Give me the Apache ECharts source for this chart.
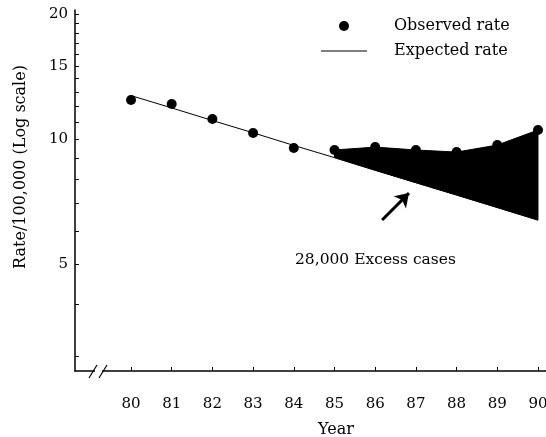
<!DOCTYPE html>
<html lang="en">
<head>
  <meta charset="UTF-8">
  <title>Observed vs expected rate</title>
  <script src="https://cdn.jsdelivr.net/npm/echarts@6/dist/echarts.min.js"></script>
</head>
<body style="margin:0">
  <div id="main" style="width:546px; height:437px;"></div>
  <script>
    // data
    var years = [80, 81, 82, 83, 84, 85, 86, 87, 88, 89, 90];
    var observed = [12.42, 12.15, 11.18, 10.35, 9.52, 9.42, 9.57, 9.42, 9.31, 9.68, 10.52];
    var expected = [12.73, 11.89, 11.09, 10.36, 9.66, 9.03, 8.42, 7.86, 7.34, 6.85, 6.39];
    var excessYears = [85, 86, 87, 88, 89, 90];
    var yLabels = [5, 10, 15, 20];
    var yTicks = [3, 4, 5, 6, 7, 8, 9, 10, 11, 12, 13, 14, 15, 16, 17, 18, 19, 20];
    var arrowFrom = [86.17, 6.39];
    var arrowTo = [86.83, 7.42];

    var font = 'DejaVu Serif';

    var obsPts = years.map(function (y, i) { return [y, observed[i]]; });
    var expPts = years.map(function (y, i) { return [y, expected[i]]; });
    // rows [year, observed, expected] for the shaded excess
    var excessRows = excessYears.map(function (y) {
      var i = years.indexOf(y);
      return [y, observed[i], expected[i]];
    });

    var chart = echarts.init(document.getElementById('main'));
    var option = {
      animation: false,
      backgroundColor: '#fff',
      grid: { left: 75, right: 0, top: 10, bottom: 66, outerBoundsMode: 'none' },
      legend: {
        data: [
          { name: 'Observed rate', icon: 'circle' },
          { name: 'Expected rate', icon: 'path://M0,0H46V1H0Z' }
        ],
        orient: 'vertical',
        left: 316, top: 11,
        itemWidth: 46, itemHeight: 10, itemGap: 5,
        symbolKeepAspect: true,
        textStyle: { fontFamily: font, fontSize: 16, color: '#000', lineHeight: 20, padding: [0, 0, 0, 22] }
      },
      xAxis: {
        type: 'value', min: 78.624, max: 90.197,
        name: 'Year', nameLocation: 'middle', nameGap: 51,
        nameTextStyle: { fontFamily: font, fontSize: 16, color: '#000', padding: [0, 0, 0, 51] },
        axisLine: { lineStyle: { color: '#000', width: 1.5 } },
        axisTick: { inside: true, length: 4, customValues: years, lineStyle: { color: '#000' } },
        axisLabel: { customValues: years, margin: 26, fontFamily: font, fontSize: 15, color: '#000' },
        splitLine: { show: false }
      },
      yAxis: {
        type: 'log', logBase: 10, min: 2.77, max: 20.45,
        name: 'Rate/100,000 (Log scale)', nameLocation: 'middle', nameGap: 46,
        nameTextStyle: { fontFamily: font, fontSize: 16, color: '#000', padding: [0, 0, 0, 47] },
        axisLine: { show: true, lineStyle: { color: '#000', width: 1.5 } },
        axisTick: { show: true, inside: true, length: 4, customValues: yTicks, lineStyle: { color: '#000' } },
        axisLabel: { customValues: yLabels, margin: 7, fontFamily: font, fontSize: 15, color: '#000' },
        splitLine: { show: false }
      },
      series: [
        {
          name: 'excess', type: 'custom', data: excessRows, silent: true, z: 2,
          encode: { x: 0, y: [1, 2] },
          renderItem: function (params, api) {
            if (params.dataIndex !== 0) return;
            var pts = [];
            excessRows.forEach(function (r) { pts.push(api.coord([r[0], r[1]])); });
            for (var k = excessRows.length - 1; k >= 0; k--) {
              pts.push(api.coord([excessRows[k][0], excessRows[k][2]]));
            }
            return {
              type: 'polygon',
              shape: { points: pts },
              style: { fill: '#000', stroke: '#000', lineWidth: 1 }
            };
          }
        },
        {
          name: 'Expected rate', type: 'line', data: expPts,
          symbol: 'none', lineStyle: { color: '#000', width: 1 }, itemStyle: { color: '#000' }, z: 3,
          markLine: {
            silent: true, symbol: ['none', 'arrow'], symbolSize: 13,
            label: { show: false },
            lineStyle: { color: '#000', width: 3, type: 'solid' },
            data: [[{ coord: arrowFrom }, { coord: arrowTo }]]
          }
        },
        {
          name: 'Observed rate', type: 'scatter', data: obsPts,
          symbolSize: 10, itemStyle: { color: '#000', opacity: 1 }, z: 4
        }
      ],
      graphic: [
        {
          type: 'text',
          style: { text: '28,000 Excess cases', x: 295, y: 260, verticalAlign: 'middle',
                   font: '15.5px "DejaVu Serif"', fill: '#000' }
        },
        { type: 'rect', shape: { x: 95, y: 368, width: 7, height: 5 }, style: { fill: '#fff' }, z: 100 },
        { type: 'line', shape: { x1: 89, y1: 378, x2: 97, y2: 365 }, style: { stroke: '#000', lineWidth: 1.2 }, z: 101 },
        { type: 'line', shape: { x1: 99, y1: 378, x2: 107, y2: 365 }, style: { stroke: '#000', lineWidth: 1.2 }, z: 101 }
      ]
    };
    chart.setOption(option);
  </script>
</body>
</html>
